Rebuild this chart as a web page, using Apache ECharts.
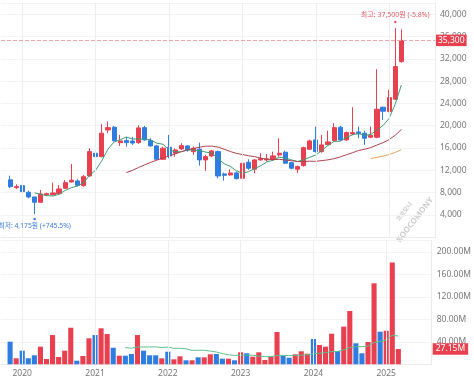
<!DOCTYPE html>
<html>
<head>
<meta charset="utf-8">
<script src="https://cdn.jsdelivr.net/npm/echarts@6/dist/echarts.min.js"></script>
<style>
html,body{margin:0;padding:0;background:#fff;}
#c{width:474px;height:379px;}
</style>
</head>
<body>
<div id="c"></div>
<script>
// ---- data (monthly) ----
const months = ['2019-11','2019-12',
'2020-01','2020-02','2020-03','2020-04','2020-05','2020-06','2020-07','2020-08','2020-09','2020-10','2020-11','2020-12',
'2021-01','2021-02','2021-03','2021-04','2021-05','2021-06','2021-07','2021-08','2021-09','2021-10','2021-11','2021-12',
'2022-01','2022-02','2022-03','2022-04','2022-05','2022-06','2022-07','2022-08','2022-09','2022-10','2022-11','2022-12',
'2023-01','2023-02','2023-03','2023-04','2023-05','2023-06','2023-07','2023-08','2023-09','2023-10','2023-11','2023-12',
'2024-01','2024-02','2024-03','2024-04','2024-05','2024-06','2024-07','2024-08','2024-09','2024-10','2024-11','2024-12',
'2025-01','2025-02','2025-03'];

const openP = [10300,8900,9260,8070,7230,6280,7590,7640,7820,8790,9920,10100,9260,11000,15070,14460,19250,19730,16960,17330,
17250,16970,19660,17330,16380,13990,16150,15070,15840,16380,15360,15790,13870,14590,15360,11360,11180,11540,10580,13450,
12200,13870,13870,13990,14770,15250,13380,12200,12850,15790,17460,15360,16610,17330,19730,17460,18530,18890,18660,17940,
17940,23320,22530,24760,31500];
const closeP = [9080,9080,8180,7230,6280,7770,7820,7950,8670,9800,10230,9330,10870,15360,14460,18660,19660,17330,17280,16970,
16900,19610,17460,16380,13990,15970,14590,15660,16430,15660,15970,13870,14460,15480,11000,11120,11540,10510,13280,12380,
13870,14100,14050,14590,15070,13280,12380,12670,16070,17280,15360,16560,17100,19660,17460,18770,18770,18530,17760,18300,
22960,22600,25040,30600,35300];
const lowP = [8790,8660,7890,7000,4175,6200,7410,7530,7710,8660,9800,9080,9080,10870,14280,14350,18660,17150,16380,16250,
16560,16740,17330,16250,13870,13870,14170,14460,15660,15360,14770,12850,11950,14350,10580,10150,11050,10400,10280,12070,
11480,13740,13620,13740,14460,13150,12200,11480,12670,15660,15180,15180,16560,17150,17280,17280,18350,17760,16560,17760,
17760,21040,22430,24630,31300];
const highP = [11050,9510,10460,8360,7280,8490,8000,9800,9380,10280,13150,10400,11180,15970,17760,20270,20740,19970,18350,18000,
18000,20090,19970,17760,16560,16250,18350,15970,16860,16500,16250,16970,14770,15660,15540,11590,12200,11770,13380,13990,
13990,15070,14940,15360,17760,15540,13560,12850,16250,17460,19840,18350,19120,20450,19970,18950,23320,19840,19120,19840,
30140,23430,26430,37500,37280];
// volume in millions of shares
const volume = [40.2,10.7,24.2,10.7,16,31.3,9.4,52,13,24.2,65,6.4,14.8,46.2,52,64,53.9,29.5,15.3,15.3,
18.3,52,24.2,16,16,10.7,22.4,8.9,14.2,7.1,7.1,12.4,12.4,17.8,18.3,10,10,7.1,21.3,19.6,
13.5,21.3,7.6,13.5,57.4,15.3,11.7,17.8,23.1,18.8,45,34.3,31.3,54.4,23.6,66.9,94.8,37.3,19.6,39.6,
144,58,59.7,181,27.15];

// moving averages (5, 20, 60 month; volume 20 month)
const ma5 = [7970,7708,7456,7410,7698,8402,8894,9196,9780,11118,12050,13736,15802,17094,17478,17980,17628,17618,17644,17464,
16868,16682,15678,15318,15328,15662,15662,15518,15278,15088,14156,13186,12720,11930,11490,11766,12316,12828,13536,13798,
14336,14218,13874,13598,13894,14336,14752,15588,16474,17192,17228,17910,18352,18638,18258,18426,19264,20030,21332,23900,27300];
const ma5Start = 4;
const ma20 = [11600,11992,12518,12982,13440,13825,14235,14574,14959,15347,15640,15927,16154,16334,16340,16167,15790,15384,15043,14843,
14613,14462,14186,14016,13926,13980,13846,13735,13586,13568,13649,13618,13753,13885,14094,14417,14799,15161,15562,15786,
16082,16536,16961,17511,18311,19323];
const ma20Start = 19;
const ma60 = [14098,14330,14555,14836,15226,15709];
const ma60Start = 59;
const volMa20 = [29.7,28.6,30.7,30.7,30.9,30.9,29.9,30.6,28.4,28.5,27.6,24.7,25.0,24.9,23.5,21.8,19.1,16.9,15.8,16.1,
16.3,16.05,14.5,13.7,13.6,15.6,15.9,15.3,15.8,16.2,16.8,18.7,19.8,20.7,22.6,22.8,25.7,29.9,31.4,31.3,
32.3,38.9,40.7,43.3,51.7,50.2];
const volMaStart = 19;

const priceTickStep = 4000, priceMax = 42000, priceLabelMax = 40000;
const volTickStep = 40, volMax = 220, volLabelMax = 200;

// ---- build ----
const RED = '#e8404f', BLUE = '#2f7de1';
const FONT = '"Noto Sans", "Noto Sans CJK KR", sans-serif';
const padL = 1;
const axisCats = ['_pad0'].concat(months, ['_pad1','_pad2','_pad3','_pad4','_pad5']);
function padSeries(arr, start) {
  const out = [];
  for (let k = 0; k < padL + start; k++) out.push('-');
  arr.forEach(v => out.push(v));
  while (out.length < axisCats.length) out.push('-');
  return out;
}
const candles = padSeries(months.map((m, i) => [openP[i], closeP[i], lowP[i], highP[i]]), 0);
const volData = padSeries(volume.map((v, i) => ({
  value: v, itemStyle: { color: closeP[i] >= openP[i] ? RED : BLUE }
})), 0);
const yearCats = months.filter(m => /-01$/.test(m));
const yearLines = yearCats.map(m => ({ xAxis: m, lineStyle: { color: '#eeeeee', type: 'solid', width: 1 }, label: { show: false } }));

const comma = n => String(n).replace(/\B(?=(\d{3})+(?!\d))/g, ',');
const maxHigh = Math.max(...highP), maxIdx = highP.indexOf(maxHigh);
const minLow = Math.min(...lowP), minIdx = lowP.indexOf(minLow);
const last = closeP[closeP.length - 1];
const trunc1 = x => (Math.trunc(x * 10) / 10).toFixed(1);
const hiText = '최고: ' + comma(maxHigh) + '원 (' + trunc1((last - maxHigh) / maxHigh * 100) + '%)';
const loText = '최저: ' + comma(minLow) + '원 (+' + trunc1((last - minLow) / minLow * 100) + '%)';
const lastVol = volume[volume.length - 1];

const chart = echarts.init(document.getElementById('c'), null, { renderer: 'canvas' });
chart.setOption({
  animation: false,
  textStyle: { fontFamily: FONT },
  grid: [
    { left: 1, right: 39, top: 3, height: 234.3 },
    { left: 1, right: 39, top: 240.55, height: 123.75 }
  ],
  xAxis: [
    { type: 'category', gridIndex: 0, data: axisCats, boundaryGap: true,
      axisLine: { show: true, lineStyle: { color: '#ebebeb' } }, axisTick: { show: false },
      axisLabel: { show: false }, splitLine: { show: false } },
    { type: 'category', gridIndex: 1, data: axisCats, boundaryGap: true,
      axisLine: { show: true, lineStyle: { color: '#ebebeb' } }, axisTick: { show: false },
      axisLabel: { interval: (idx, val) => /-01$/.test(val), formatter: v => v.slice(0, 4),
        color: '#777', fontSize: 8.5, margin: 5, fontFamily: FONT },
      splitLine: { show: false } }
  ],
  yAxis: [
    { type: 'value', gridIndex: 0, position: 'right', min: 0, max: priceMax, interval: priceTickStep,
      axisLine: { show: true, lineStyle: { color: '#ebebeb' } }, axisTick: { show: false },
      axisLabel: { color: '#777', fontSize: 8.5, margin: 5, fontFamily: FONT,
        formatter: v => (v === 0 || v > priceLabelMax) ? '' : comma(v) },
      splitLine: { lineStyle: { color: '#f3f3f3' } } },
    { type: 'value', gridIndex: 1, position: 'right', min: 0, max: volMax, interval: volTickStep,
      axisLine: { show: true, lineStyle: { color: '#ebebeb' } }, axisTick: { show: false },
      axisLabel: { color: '#777', fontSize: 8.5, margin: 5, fontFamily: FONT,
        formatter: v => (v === 0 || v > volLabelMax) ? '' : v.toFixed(2) + 'M' },
      splitLine: { lineStyle: { color: '#f3f3f3' } } }
  ],
  series: [
    { type: 'candlestick', xAxisIndex: 0, yAxisIndex: 0, data: candles, barWidth: '76%',
      itemStyle: { color: RED, color0: BLUE, borderColor: RED, borderColor0: BLUE, borderWidth: 1 },
      markLine: { silent: true, symbol: ['none', 'none'], animation: false,
        data: yearLines.concat([{ yAxis: last,
          lineStyle: { color: '#f2a3ab', type: 'dashed', width: 1 },
          label: { show: true, position: 'end', distance: 1, formatter: comma(last), color: '#fff',
            backgroundColor: RED, padding: [2, 2, 1, 2], fontSize: 8.5, fontFamily: FONT } }]) },
      markPoint: { silent: true, symbol: 'circle', symbolSize: 2.5, animation: false,
        data: [
          { coord: [months[maxIdx], maxHigh], symbolOffset: [0, -6], itemStyle: { color: '#e25a68' },
            label: { show: true, position: 'top', distance: 2, formatter: hiText, color: '#e25a68', fontSize: 7, fontFamily: FONT } },
          { coord: [months[minIdx], minLow], symbolOffset: [0, 5], itemStyle: { color: '#3b7ddd' },
            label: { show: true, position: 'bottom', distance: 2, formatter: loText, color: '#3b7ddd', fontSize: 6.8, fontFamily: FONT } }
        ] } },
    { type: 'line', xAxisIndex: 0, yAxisIndex: 0, data: padSeries(ma5, ma5Start), showSymbol: false,
      lineStyle: { color: '#3f9c70', width: 1 }, silent: true },
    { type: 'line', xAxisIndex: 0, yAxisIndex: 0, data: padSeries(ma20, ma20Start), showSymbol: false,
      lineStyle: { color: '#b0424f', width: 1 }, silent: true },
    { type: 'line', xAxisIndex: 0, yAxisIndex: 0, data: padSeries(ma60, ma60Start), showSymbol: false,
      lineStyle: { color: '#e8a458', width: 1 }, silent: true },
    { type: 'bar', xAxisIndex: 1, yAxisIndex: 1, data: volData, barWidth: '84%',
      markLine: { silent: true, symbol: ['none', 'none'], animation: false,
        data: yearLines.concat([{ yAxis: lastVol, lineStyle: { color: 'rgba(255,255,255,0)', width: 1 },
          label: { show: true, position: 'end', distance: 1, formatter: lastVol.toFixed(2) + 'M', color: '#fff',
            backgroundColor: RED, padding: [2, 3, 1, 3], fontSize: 8.5, fontFamily: FONT } }]) } },
    { type: 'line', xAxisIndex: 1, yAxisIndex: 1, data: padSeries(volMa20, volMaStart), showSymbol: false,
      lineStyle: { color: '#5cc08c', width: 1 }, silent: true }
  ],
  graphic: [
    { type: 'text', x: 415, y: 220, rotation: 0.91, silent: true,
      style: { text: 'KOOCOMONY', fill: '#cdcdcd', font: 'bold 8px "Noto Sans"', align: 'center', verticalAlign: 'middle' } },
    { type: 'text', x: 404, y: 211.5, rotation: 0.91, silent: true,
      style: { text: '코코모니', fill: '#cdcdcd', font: 'bold 6px "Noto Sans CJK KR"', align: 'center', verticalAlign: 'middle' } }
  ]
});
</script>
</body>
</html>
